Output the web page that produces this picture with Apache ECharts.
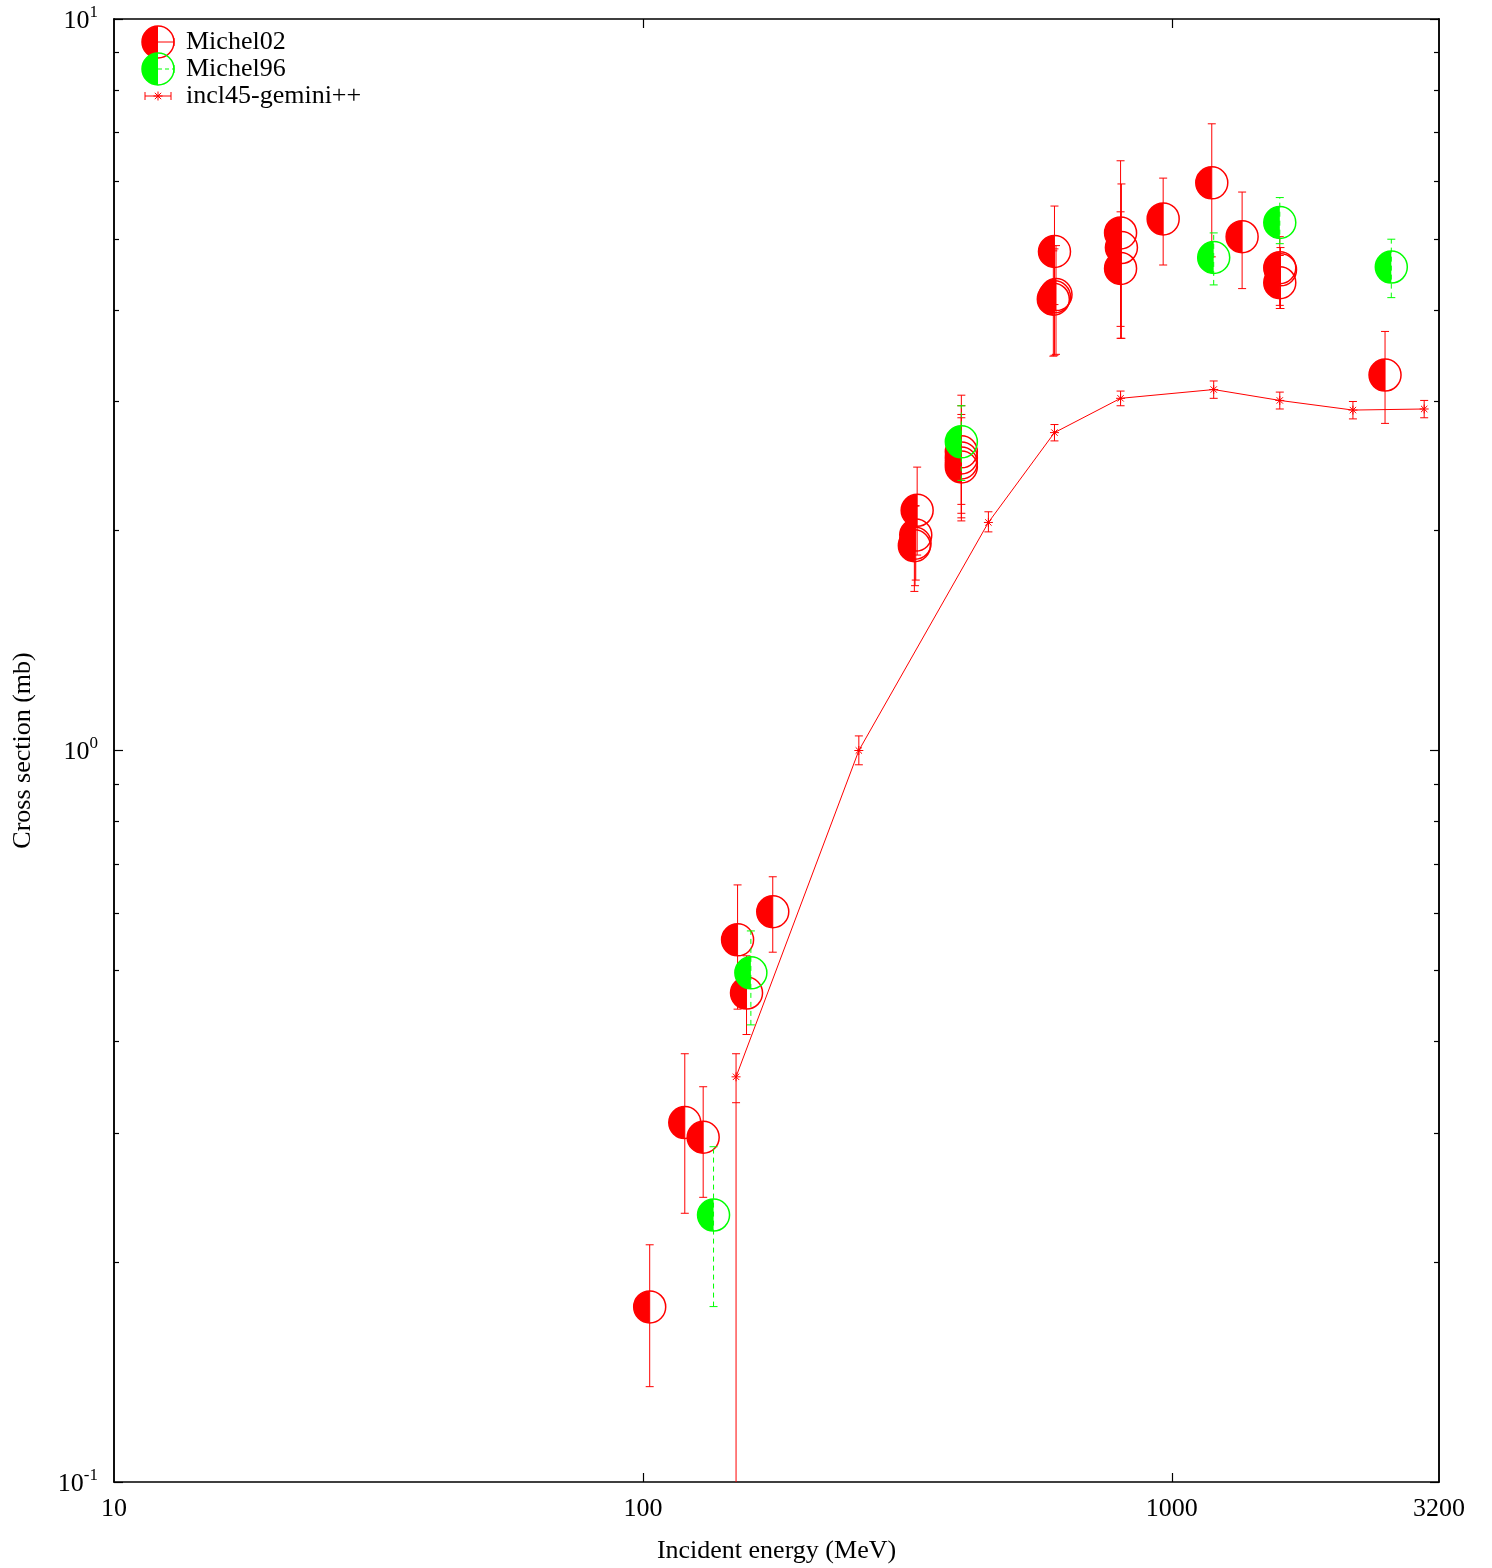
<!DOCTYPE html>
<html><head><meta charset="utf-8">
<script src="https://cdn.jsdelivr.net/npm/echarts@6/dist/echarts.min.js"></script>
<style>html,body{margin:0;padding:0;background:#fff}#c{width:1492px;height:1568px}</style>
</head><body><div id="c"></div>
<script>
// ---- data ----
var michel02E   = [103, 120, 130, 151, 157, 176, 330, 328, 327, 326, 400, 400, 400, 400, 600, 604, 600, 597, 800, 803, 800, 963, 1190, 1358, 1600, 1605, 1600, 2530];
var michel02Val = [0.1735, 0.310, 0.296, 0.551, 0.466, 0.602, 2.13, 1.97, 1.92, 1.905, 2.56, 2.512, 2.472, 2.441, 4.81, 4.20, 4.17, 4.14, 5.10, 4.87, 4.56, 5.33, 5.97, 5.04, 4.57, 4.54, 4.36, 3.26];
var michel02Lo  = [0.135, 0.233, 0.245, 0.443, 0.409, 0.530, 1.85, 1.71, 1.68, 1.65, 2.17, 2.11, 2.08, 2.06, 4.07, 3.48, 3.47, 3.46, 3.80, 3.66, 3.66, 4.61, 4.73, 4.28, 4.06, 4.02, 4.02, 2.80];
var michel02Hi  = [0.211, 0.385, 0.347, 0.655, 0.524, 0.672, 2.44, 2.16, 2.16, 2.16, 3.06, 2.96, 2.88, 2.85, 5.55, 4.90, 4.85, 4.82, 6.40, 5.95, 5.45, 6.06, 7.19, 5.80, 5.04, 4.87, 4.75, 3.74];

var michel96E   = [136, 160, 400, 1200, 1600, 2600];
var michel96Val = [0.2317, 0.4966, 2.642, 4.72, 5.27, 4.58];
var michel96Lo  = [0.1737, 0.4216, 2.34, 4.33, 4.93, 4.16];
var michel96Hi  = [0.2873, 0.5667, 2.96, 5.10, 5.70, 5.00];

var modelE   = [150, 256, 450, 600, 800, 1200, 1600, 2200, 3000];
var modelVal = [0.358, 1.0, 2.05, 2.72, 3.03, 3.115, 3.01, 2.92, 2.93];
var modelLo  = [0.330, 0.956, 1.99, 2.65, 2.96, 3.03, 2.93, 2.84, 2.85];
var modelHi  = [0.385, 1.047, 2.12, 2.79, 3.10, 3.20, 3.09, 3.00, 3.01];
// lower error of the 150 MeV model point runs off the bottom of the log axis
var modelTailE = [150], modelTailTop = [0.330], modelTailBottom = [0.01];

var xLabelValues = [10, 100, 1000, 3200];
var xTickValues = [100, 1000];
var yMajorValues = [0.1, 1, 10];
var yMinorValues = [0.2, 0.3, 0.4, 0.5, 0.6, 0.7, 0.8, 0.9, 2, 3, 4, 5, 6, 7, 8, 9];

var seriesNames = ['Michel02', 'Michel96', 'incl45-gemini++'];
var xTitle = 'Incident energy (MeV)';
var yTitle = 'Cross section (mb)';

// ---- helpers ----
var RED = '#ff0000', GREEN = '#00ff00';
var FONT = 'Liberation Serif';
function zip4(a, b, c, d) { return a.map(function (v, i) { return [v, b[i], c[i], d[i]]; }); }

function expItem(color, dash) {
  return function (params, api) {
    var e = api.value(0), v = api.value(1), lo = api.value(2), hi = api.value(3);
    var p = api.coord([e, v]), pl = api.coord([e, lo]), ph = api.coord([e, hi]);
    var cap = 4, r = 16;
    var bar = { stroke: color, lineWidth: 1 };
    if (dash) bar.lineDash = [5, 4];
    var capS = { stroke: color, lineWidth: 1 };
    return { type: 'group', children: [
      { type: 'line', shape: { x1: p[0], y1: pl[1], x2: p[0], y2: ph[1] }, style: bar },
      { type: 'line', shape: { x1: p[0] - cap, y1: pl[1], x2: p[0] + cap, y2: pl[1] }, style: capS },
      { type: 'line', shape: { x1: p[0] - cap, y1: ph[1], x2: p[0] + cap, y2: ph[1] }, style: capS },
      { type: 'sector', shape: { cx: p[0], cy: p[1], r0: 0, r: r, startAngle: Math.PI / 2, endAngle: 3 * Math.PI / 2, clockwise: true }, style: { fill: color } },
      { type: 'circle', shape: { cx: p[0], cy: p[1], r: r }, style: { fill: 'none', stroke: color, lineWidth: 1.5 } }
    ] };
  };
}

function modelItem(params, api) {
  var e = api.value(0), v = api.value(1), lo = api.value(2), hi = api.value(3);
  var p = api.coord([e, v]), pl = api.coord([e, lo]), ph = api.coord([e, hi]);
  var cap = 4, s = 4.5, d = 3.2;
  var st = { stroke: RED, lineWidth: 1 };
  return { type: 'group', children: [
    { type: 'line', shape: { x1: p[0], y1: pl[1], x2: p[0], y2: ph[1] }, style: st },
    { type: 'line', shape: { x1: p[0] - cap, y1: pl[1], x2: p[0] + cap, y2: pl[1] }, style: st },
    { type: 'line', shape: { x1: p[0] - cap, y1: ph[1], x2: p[0] + cap, y2: ph[1] }, style: st },
    { type: 'line', shape: { x1: p[0] - s, y1: p[1], x2: p[0] + s, y2: p[1] }, style: st },
    { type: 'line', shape: { x1: p[0], y1: p[1] - s, x2: p[0], y2: p[1] + s }, style: st },
    { type: 'line', shape: { x1: p[0] - d, y1: p[1] - d, x2: p[0] + d, y2: p[1] + d }, style: st },
    { type: 'line', shape: { x1: p[0] - d, y1: p[1] + d, x2: p[0] + d, y2: p[1] - d }, style: st }
  ] };
}

function tailItem(params, api) {
  var e = api.value(0), t = api.value(1), b = api.value(2);
  var pt = api.coord([e, t]), pb = api.coord([e, b]);
  return { type: 'line', shape: { x1: pt[0], y1: pt[1], x2: pb[0], y2: pb[1] }, style: { stroke: RED, lineWidth: 1 } };
}

function svgIcon(body) {
  return 'image://data:image/svg+xml;charset=utf-8,' + encodeURIComponent(
    "<svg xmlns='http://www.w3.org/2000/svg' width='40' height='34' viewBox='0 0 40 34'>" + body + "</svg>");
}
function halfCircleIcon(color, dash) {
  return svgIcon(
    "<path d='M17 1 A16 16 0 0 0 17 33 Z' fill='" + color + "'/>" +
    "<circle cx='17' cy='17' r='16' fill='none' stroke='" + color + "' stroke-width='1.5'/>" +
    "<line x1='17' y1='17' x2='33' y2='17' stroke='" + color + "' stroke-width='1'" + (dash ? " stroke-dasharray='4 3'" : "") + "/>" +
    "<line x1='33' y1='13' x2='33' y2='21' stroke='" + color + "' stroke-width='1'/>");
}
var modelIcon = svgIcon(
  "<g stroke='" + RED + "' stroke-width='1'>" +
  "<line x1='4' y1='17' x2='30' y2='17'/><line x1='4' y1='13' x2='4' y2='21'/><line x1='30' y1='13' x2='30' y2='21'/>" +
  "<line x1='12.5' y1='17' x2='21.5' y2='17'/><line x1='17' y1='12.5' x2='17' y2='21.5'/>" +
  "<line x1='13.8' y1='13.8' x2='20.2' y2='20.2'/><line x1='13.8' y1='20.2' x2='20.2' y2='13.8'/></g>");

var axisLineStyle = { color: '#000', width: 1.5 };
function yAxis(pos, ticks, len, labels) {
  return {
    type: 'log', logBase: 10, min: 0.1, max: 10, position: pos,
    axisLine: { show: true, lineStyle: axisLineStyle },
    axisTick: { show: true, inside: true, length: len, customValues: ticks, lineStyle: { color: '#000', width: 1.2 } },
    splitLine: { show: false }, minorTick: { show: false },
    axisLabel: labels ? {
      show: true, margin: 16, customValues: yMajorValues,
      formatter: function (v) { var ex = Math.round(Math.log10(v)); return '{b|10}{s|' + ex + '}'; },
      rich: {
        b: { fontFamily: FONT, fontSize: 26, color: '#000', lineHeight: 30, verticalAlign: 'bottom', padding: [4, 0, 0, 0] },
        s: { fontFamily: FONT, fontSize: 17, color: '#000', lineHeight: 17, verticalAlign: 'top' }
      }
    } : { show: false },
    name: labels ? yTitle : '', nameLocation: 'middle', nameGap: 78, nameRotate: 90,
    nameTextStyle: { fontFamily: FONT, fontSize: 26, color: '#000' }
  };
}
function xAxis(pos, labels) {
  return {
    type: 'log', logBase: 10, min: 10, max: 3200, position: pos,
    axisLine: { show: true, lineStyle: axisLineStyle },
    axisTick: { show: true, inside: true, length: 9, customValues: xTickValues, lineStyle: { color: '#000', width: 1.2 } },
    splitLine: { show: false }, minorTick: { show: false },
    axisLabel: labels ? {
      show: true, margin: 14, customValues: xLabelValues,
      fontFamily: FONT, fontSize: 26, color: '#000',
      formatter: function (v) { return String(Math.round(v)); }
    } : { show: false },
    name: labels ? xTitle : '', nameLocation: 'middle', nameGap: 56,
    nameTextStyle: { fontFamily: FONT, fontSize: 26, color: '#000' }
  };
}

var chart = echarts.init(document.getElementById('c'), null, { renderer: 'canvas' });
chart.setOption({
  animation: false,
  backgroundColor: '#fff',
  grid: { left: 114, right: 53, top: 19, bottom: 86, containLabel: false, outerBoundsMode: 'none' },
  legend: {
    orient: 'vertical', left: 141, top: 25, padding: 0,
    itemWidth: 40, itemHeight: 34, itemGap: -7,
    textStyle: { fontFamily: FONT, fontSize: 26, color: '#000' },
    selectedMode: false,
    data: [
      { name: seriesNames[0], icon: halfCircleIcon(RED, false) },
      { name: seriesNames[1], icon: halfCircleIcon(GREEN, true) },
      { name: seriesNames[2], icon: modelIcon }
    ]
  },
  xAxis: [xAxis('bottom', true), xAxis('top', false)],
  yAxis: [yAxis('left', yMajorValues, 9, true), yAxis('left', yMinorValues, 5, false),
          yAxis('right', yMajorValues, 9, false), yAxis('right', yMinorValues, 5, false)],
  series: [
    { name: seriesNames[0], type: 'custom', renderItem: expItem(RED, false),
      data: zip4(michel02E, michel02Val, michel02Lo, michel02Hi), encode: { x: 0, y: 1 }, z: 2 },
    { name: seriesNames[1], type: 'custom', renderItem: expItem(GREEN, true),
      data: zip4(michel96E, michel96Val, michel96Lo, michel96Hi), encode: { x: 0, y: 1 }, z: 3 },
    { name: seriesNames[2], type: 'line', showSymbol: false, symbol: 'none',
      data: modelE.map(function (e, i) { return [e, modelVal[i]]; }),
      lineStyle: { color: RED, width: 1 }, itemStyle: { color: RED }, z: 4 },
    { name: seriesNames[2], type: 'custom', renderItem: modelItem,
      data: zip4(modelE, modelVal, modelLo, modelHi), encode: { x: 0, y: 1 }, z: 4 },
    { type: 'custom', renderItem: tailItem, clip: true,
      data: modelTailE.map(function (e, i) { return [e, modelTailTop[i], modelTailBottom[i]]; }),
      encode: { x: 0, y: 1 }, z: 4 }
  ]
});
</script></body></html>
